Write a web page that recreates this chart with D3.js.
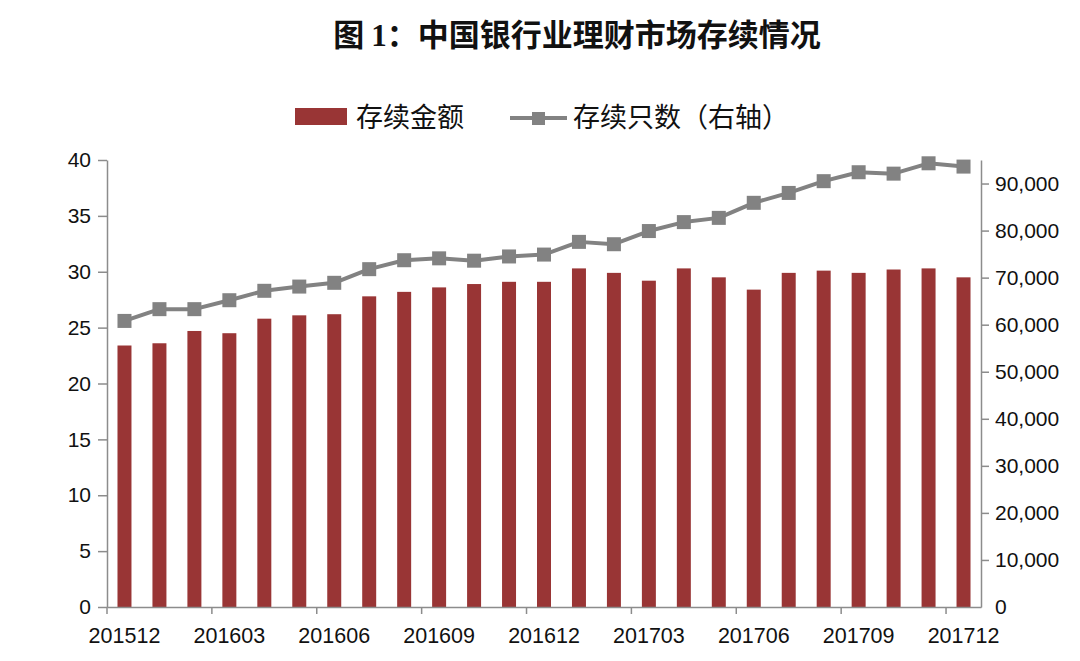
<!DOCTYPE html>
<html>
<head>
<meta charset="utf-8">
<script src="https://cdn.jsdelivr.net/npm/d3@7"></script>
<style>
  html, body { margin: 0; padding: 0; background: #fff; }
  svg { display: block; }
</style>
</head>
<body>
<svg id="chart" width="1080" height="661"></svg>
<script>
// ---- data ----
const categories = ["201512","201601","201602","201603","201604","201605","201606","201607","201608","201609","201610","201611","201612","201701","201702","201703","201704","201705","201706","201707","201708","201709","201710","201711","201712"];
const amountValues = [23.4, 23.6, 24.7, 24.5, 25.8, 26.1, 26.2, 27.8, 28.2, 28.6, 28.9, 29.1, 29.1, 30.3, 29.9, 29.2, 30.3, 29.5, 28.4, 29.9, 30.1, 29.9, 30.2, 30.3, 29.5];
const countValues = [60800, 63300, 63300, 65200, 67200, 68100, 68900, 71800, 73700, 74100, 73600, 74500, 74900, 77600, 77100, 79900, 81800, 82700, 85900, 88000, 90500, 92400, 92100, 94300, 93600];
const leftTicks = [0, 5, 10, 15, 20, 25, 30, 35, 40];
const rightTicks = [0, 10000, 20000, 30000, 40000, 50000, 60000, 70000, 80000, 90000];
const xTickLabels = ["201512","201603","201606","201609","201612","201703","201706","201709","201712"];
const titleParts = ["图 ", "1", "：中国银行业理财市场存续情况"];
const legendLabels = ["存续金额", "存续只数（右轴）"];

// ---- layout ----
const svg = d3.select("#chart");
const plotLeft = 107, plotRight = 981, plotTop = 160, plotBottom = 607;
const barColor = "#993535", lineColor = "#828282", axisColor = "#8c8c8c";
const tickFont = "'Liberation Sans', Arial, sans-serif";

const x = d3.scaleBand().domain(categories).range([plotLeft, plotRight]).paddingInner(0.6).paddingOuter(0.3);
const yL = d3.scaleLinear().domain([0, 40]).range([plotBottom, plotTop]);
const yR = d3.scaleLinear().domain([0, 95000]).range([plotBottom, plotTop]);

// title
const title = svg.append("text")
  .attr("x", 577).attr("y", 46)
  .attr("text-anchor", "middle")
  .attr("font-family", "'Noto Sans CJK SC', sans-serif")
  .attr("font-weight", "bold")
  .attr("font-size", 31)
  .attr("fill", "#111");
title.append("tspan").text(titleParts[0]);
title.append("tspan").attr("font-family", "'Liberation Serif', serif").text(titleParts[1]);
title.append("tspan").text(titleParts[2]);

// legend
const lg = svg.append("g");
lg.append("rect").attr("x", 295).attr("y", 108).attr("width", 52).attr("height", 17).attr("fill", barColor);
lg.append("text").attr("x", 356).attr("y", 127)
  .attr("font-family", "'Noto Sans CJK SC', sans-serif").attr("font-size", 27).attr("fill", "#111")
  .text(legendLabels[0]);
lg.append("line").attr("x1", 510).attr("x2", 567).attr("y1", 118).attr("y2", 118)
  .attr("stroke", lineColor).attr("stroke-width", 4);
lg.append("rect").attr("x", 532).attr("y", 112).attr("width", 13).attr("height", 13).attr("fill", lineColor);
lg.append("text").attr("x", 573).attr("y", 127)
  .attr("font-family", "'Noto Sans CJK SC', sans-serif").attr("font-size", 27).attr("fill", "#111")
  .text(legendLabels[1]);

// bars
svg.append("g").selectAll("rect").data(amountValues).join("rect")
  .attr("x", (d, i) => x(categories[i]))
  .attr("width", x.bandwidth())
  .attr("y", d => yL(d))
  .attr("height", d => yL(0) - yL(d))
  .attr("fill", barColor);

// axes
function styleAxis(g, size) {
  g.selectAll("path.domain").attr("stroke", axisColor).attr("stroke-width", 1.5);
  g.selectAll(".tick line").attr("stroke", axisColor).attr("stroke-width", 1.5);
  g.selectAll(".tick text").attr("font-family", tickFont).attr("font-size", size).attr("fill", "#111");
}

const gL = svg.append("g").attr("transform", `translate(${plotLeft},0)`)
  .call(d3.axisLeft(yL).tickValues(leftTicks).tickSize(9).tickSizeOuter(0).tickPadding(7));
styleAxis(gL, 21);

const gR = svg.append("g").attr("transform", `translate(${plotRight},0)`)
  .call(d3.axisRight(yR).tickValues(rightTicks).tickSize(8).tickSizeOuter(0).tickPadding(6).tickFormat(d3.format(",")));
styleAxis(gR, 21);
gR.selectAll(".tick").filter(d => d === 0).select("line").remove();

const gB = svg.append("g").attr("transform", `translate(0,${plotBottom})`)
  .call(d3.axisBottom(x).tickValues(xTickLabels).tickSize(7).tickSizeOuter(0).tickPadding(14));
styleAxis(gB, 21.5);
gB.selectAll(".tick line").attr("x1", -x.step() / 2).attr("x2", -x.step() / 2);

// line
const cx = (d, i) => x(categories[i]) + x.bandwidth() / 2;
svg.append("path").datum(countValues)
  .attr("fill", "none").attr("stroke", lineColor).attr("stroke-width", 4).attr("stroke-linejoin", "round")
  .attr("d", d3.line().x(cx).y(d => yR(d)));
svg.append("g").selectAll("rect").data(countValues).join("rect")
  .attr("x", (d, i) => cx(d, i) - 7).attr("y", d => yR(d) - 7)
  .attr("width", 14).attr("height", 14).attr("fill", lineColor);
</script>
</body>
</html>
